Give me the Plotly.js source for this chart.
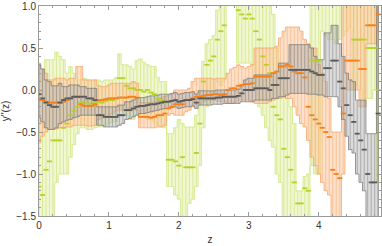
<!DOCTYPE html>
<html><head><meta charset="utf-8">
<script src="https://cdn.plot.ly/plotly-3.0.1.min.js"></script>
<style>html,body{margin:0;padding:0;background:#fff}#chart{width:382px;height:246px}</style>
</head><body><div id="chart"></div>
<script>
const z = [0,0.05,0.1,0.15,0.2,0.25,0.3,0.35,0.4,0.45,0.5,0.55,0.6,0.65,0.7,0.75,0.8,0.85,0.9,0.95,
1,1.05,1.1,1.15,1.2,1.25,1.3,1.35,1.4,1.45,1.5,1.55,1.6,1.65,1.7,1.75,1.8,1.85,1.9,1.95,
2,2.05,2.1,2.15,2.2,2.25,2.3,2.35,2.4,2.45,2.5,2.55,2.6,2.65,2.7,2.75,2.8,2.85,2.9,2.95,
3,3.05,3.1,3.15,3.2,3.25,3.3,3.35,3.4,3.45,3.5,3.55,3.6,3.65,3.7,3.75,3.8,3.85,3.9,3.95,
4,4.05,4.1,4.15,4.2,4.25,4.3,4.35,4.4,4.45,4.5,4.55,4.6,4.65,4.7,4.75,4.8,4.85];

const greenC = [-1.15,-1.25,-0.95,-0.85,-0.6,-0.6,
-0.6,-0.45,-0.4,-0.3,-0.25,-0.2,
-0.15,-0.14,-0.16,-0.18,-0.15,-0.14,-0.15,-0.13,-0.12,-0.12,-0.1,
0.14,0.14,0.05,0.02,0.02,0.0,0.0,-0.02,0.0,-0.03,-0.05,-0.1,-0.12,-0.15,
-0.83,-0.83,-0.85,-0.9,-0.8,-0.92,-0.92,-0.92,-0.75,-0.4,0.1,0.3,0.35,0.4,0.6,0.7,0.77,1.4,1.4,1.3,0.95,0.9,0.85,
0.9,0.85,0.7,0.6,0.4,0.3,0.2,-0.2,-0.3,-0.35,-0.7,-0.8,-0.95,-1.1,-1.35,-1.35,-1.17,-1.2,
0.35,0.35,0.35,1.2,1.2,1.2,1.2,1.2,1.2,1.2,1.2,1.2,0.6,0.6,0.6,0.6,0.5,0.5,0.5,0.0];
const greenLo = [-1.8,-1.8,-1.8,-1.8,-1.8,-1.1,
-1.0,-1.0,-1.0,-0.8,-0.65,-0.52,
-0.45,-0.45,-0.47,-0.47,-0.45,-0.44,-0.44,-0.42,-0.4,-0.38,-0.38,
-0.2,-0.25,-0.3,-0.35,-0.35,-0.3,-0.3,-0.3,-0.35,-0.35,-0.38,-0.42,-0.44,-0.45,
-1.15,-1.15,-1.25,-1.3,-1.5,-1.6,-1.35,-1.3,-1.15,-0.9,-0.45,-0.2,-0.15,-0.05,0.1,0.05,0.12,1.05,1.05,1.02,0.32,0.32,0.32,
0.32,0.3,0.0,-0.2,-0.3,-0.45,-0.6,-0.68,-1.0,-1.1,-1.6,-1.6,-1.7,-1.7,-1.8,-1.8,-1.8,-1.8,
-0.9,-1.0,-1.0,0.7,0.65,0.6,0.6,0.55,0.6,0.65,0.7,0.75,0.0,0.05,0.0,-0.1,-0.1,-0.1,0.0,-1.1];
const greenHi = [0.1,0.2,0.36,0.36,0.36,0.45,
0.4,0.36,0.2,0.28,0.2,0.12,
0.12,0.14,0.12,0.1,0.12,0.12,0.1,0.12,0.12,0.12,0.15,
0.43,0.3,0.3,0.28,0.25,0.35,0.37,0.33,0.3,0.28,0.28,0.15,0.1,0.1,
-0.52,-0.52,-0.45,-0.35,-0.4,-0.44,-0.44,-0.44,-0.3,0.0,0.34,0.55,0.6,0.65,0.95,1.2,1.3,2,2,2,1.6,1.6,1.6,
1.6,1.6,1.6,1.6,1.2,1.1,1.0,0.9,0.5,0.3,0.0,-0.1,-0.2,-0.4,-1.2,-1.2,-1.03,-1.0,
1.6,1.6,1.6,2,2,2,2,2,2,2,2,2,1.6,1.6,1.6,1.6,1.6,1.6,1.6,1.6];

const orangeC = [-0.12,-0.12,-0.14,-0.15,-0.15,-0.15,
-0.15,-0.14,-0.12,-0.1,-0.08,-0.08,
-0.17,-0.19,-0.19,-0.19,-0.17,-0.12,-0.12,-0.11,-0.1,-0.1,-0.1,
-0.09,-0.09,-0.09,-0.08,-0.08,-0.09,-0.32,-0.32,-0.32,-0.33,-0.32,-0.3,-0.3,-0.28,
-0.22,-0.2,-0.17,-0.17,-0.17,-0.12,-0.12,-0.1,-0.08,-0.08,-0.07,-0.06,-0.06,-0.05,-0.05,-0.06,-0.05,0.0,0.02,0.02,0.05,0.06,0.07,
0.07,0.08,0.16,0.16,0.16,0.16,0.16,0.2,0.22,0.28,0.28,0.3,0.28,0.22,0.2,0.2,0.15,-0.2,
-0.3,-0.35,-0.4,-0.45,-0.5,-0.56,-0.95,-1.0,-1.05,-0.28,0.35,0.35,0.35,0.35,0.25,0.25,0.77,0.77,0.77,0.9];
const orangeLo = [-0.63,-0.55,-0.5,-0.47,-0.46,-0.46,
-0.45,-0.45,-0.44,-0.44,-0.42,-0.42,
-0.42,-0.42,-0.43,-0.43,-0.42,-0.35,-0.33,-0.32,-0.3,-0.28,-0.25,
-0.24,-0.24,-0.24,-0.22,-0.22,-0.24,-0.45,-0.45,-0.45,-0.45,-0.45,-0.44,-0.44,-0.42,
-0.3,-0.28,-0.3,-0.3,-0.3,-0.26,-0.24,-0.2,-0.17,-0.17,-0.14,-0.12,-0.12,-0.12,-0.13,-0.14,-0.14,-0.16,-0.16,-0.15,-0.12,-0.12,-0.12,
-0.12,-0.14,-0.16,-0.16,-0.16,-0.16,-0.14,-0.12,-0.1,-0.1,-0.08,-0.1,-0.1,-0.2,-0.3,-0.4,-0.44,-0.6,
-0.8,-0.9,-1.0,-1.1,-1.2,-1.25,-1.6,-1.6,-1.6,-1.0,0.0,0.0,0.0,0.0,-0.2,-0.2,0.55,0.55,0.55,0.7];
const orangeHi = [0.32,0.25,0.2,0.12,0.12,0.14,
0.14,0.14,0.12,0.14,0.14,0.28,
0.28,0.12,0.12,0.12,0.12,0.05,0.04,0.04,0.06,0.08,0.08,
0.08,0.08,0.08,0.08,0.1,0.08,-0.15,-0.15,-0.15,-0.15,-0.14,-0.12,-0.1,-0.08,
-0.06,-0.05,0.0,0.0,0.0,0.0,0.02,0.1,0.14,0.14,0.14,0.14,0.14,0.13,0.14,0.14,0.14,0.2,0.25,0.27,0.3,0.28,0.26,
0.28,0.3,0.5,0.5,0.5,0.5,0.5,0.5,0.52,0.62,0.7,0.75,0.75,0.75,0.75,0.7,0.6,0.55,
0.5,0.5,0.3,0.2,0.1,-0.1,-0.5,-0.5,-0.5,1.6,1.6,1.6,1.6,1.6,1.6,1.6,1.6,1.6,1.6,1.6];

const grayC = [-0.05,-0.1,-0.15,-0.18,-0.2,-0.2,
-0.15,-0.12,-0.1,-0.1,-0.08,-0.08,
-0.08,-0.08,-0.1,-0.1,-0.12,-0.3,-0.3,-0.32,-0.32,-0.32,-0.32,
-0.3,-0.3,-0.24,-0.24,-0.22,-0.2,-0.19,-0.19,-0.18,-0.17,-0.17,-0.16,-0.15,-0.14,
-0.14,-0.13,-0.12,-0.14,-0.13,-0.12,-0.12,-0.11,-0.15,-0.1,-0.1,-0.1,-0.1,-0.1,-0.09,-0.09,-0.08,-0.08,-0.08,-0.08,-0.07,-0.04,0.0,
0.0,0.0,0.02,0.02,0.02,0.02,0.0,0.06,0.06,0.14,0.14,0.14,0.24,0.24,0.24,0.24,0.24,0.24,
0.22,0.2,0.18,0.18,0.26,0.26,0.35,0.35,0.1,0.02,-0.18,-0.3,-0.38,-0.52,-0.6,-0.71,-1.0,-1.1,-1.1,-0.28];
const grayLo = [-0.33,-0.38,-0.45,-0.47,-0.47,-0.45,
-0.4,-0.38,-0.36,-0.35,-0.33,-0.32,
-0.3,-0.3,-0.3,-0.3,-0.3,-0.42,-0.42,-0.44,-0.44,-0.44,-0.44,
-0.42,-0.4,-0.35,-0.34,-0.32,-0.3,-0.28,-0.28,-0.27,-0.26,-0.25,-0.24,-0.23,-0.22,
-0.22,-0.21,-0.2,-0.22,-0.21,-0.2,-0.2,-0.19,-0.22,-0.18,-0.18,-0.18,-0.18,-0.17,-0.17,-0.17,-0.16,-0.16,-0.16,-0.16,-0.16,-0.14,-0.14,
-0.14,-0.14,-0.12,-0.12,-0.12,-0.12,-0.12,-0.1,-0.1,-0.08,-0.08,-0.06,-0.04,-0.04,-0.04,-0.04,-0.04,-0.05,
-0.05,-0.05,-0.06,-0.06,-0.08,-0.08,-0.08,-0.08,-0.2,-0.35,-0.55,-0.71,-0.75,-1.0,-1.1,-1.2,-1.6,-1.6,-1.6,-1.6];
const grayHi = [0.3,0.25,0.12,0.1,0.05,0.05,
0.08,0.04,0.04,0.06,0.06,0.06,
0.04,0.04,0.02,0.02,0.02,-0.2,-0.2,-0.2,-0.2,-0.2,-0.2,
-0.18,-0.18,-0.14,-0.14,-0.12,-0.1,-0.09,-0.09,-0.08,-0.07,-0.07,-0.06,-0.05,-0.05,
-0.05,-0.04,-0.03,-0.05,-0.04,-0.03,-0.03,-0.02,-0.05,-0.01,-0.01,-0.01,-0.01,-0.01,0.0,0.0,0.0,0.0,0.0,0.0,0.01,0.05,0.12,
0.14,0.14,0.18,0.18,0.18,0.18,0.18,0.2,0.22,0.32,0.32,0.32,0.54,0.54,0.54,0.54,0.54,0.54,
0.5,0.4,0.36,0.36,0.68,0.68,0.77,0.77,0.55,0.4,0.2,0.12,0.1,-0.12,-0.12,-0.12,-0.52,-0.52,-0.52,1.6];

const xTicks = [0,1,2,3,4];
const yTicks = [-1.5,-1.0,-0.5,0.0,0.5,1.0];
const yTickText = ['\u22121.5','\u22121.0','\u22120.5','0.0','0.5','1.0'];

const styles = {
  green:  {fill:'rgba(226,240,165,0.5)', edge:'rgba(205,228,120,0.9)', bar:'rgba(210,230,130,0.75)', mk:'#b8d02a'},
  orange: {fill:'rgba(252,195,150,0.5)', edge:'rgba(246,160,95,0.9)', bar:'rgba(249,172,115,0.6)', mk:'#f5801a'},
  gray:   {fill:'rgba(175,175,175,0.45)', edge:'rgba(115,115,115,0.9)', bar:'rgba(140,140,140,0.6)', mk:'#5a5a5a'}
};

function bandTraces(c, lo, hi, s) {
  const xr = z.slice().reverse();
  return [
    {x: z.concat(xr), y: hi.concat(lo.slice().reverse()), mode:'lines', fill:'toself',
     fillcolor: s.fill, line:{color:s.edge, width:0.8, shape:'hvh'}, hoverinfo:'skip', showlegend:false},
    {x: z, y: c, mode:'markers', marker:{size:1, color:'rgba(0,0,0,0)'}, showlegend:false, hoverinfo:'skip',
     error_y:{type:'data', symmetric:false, array: hi.map((v,i)=>v-c[i]), arrayminus: c.map((v,i)=>v-lo[i]),
              color:s.bar, thickness:1, width:0}}
  ];
}
function markTrace(c, s) {
  return {x:z, y:c, mode:'markers', showlegend:false, hoverinfo:'skip',
          marker:{symbol:'line-ew', size:3.6, color:s.mk, line:{width:1.8, color:s.mk}}};
}

const data = [].concat(
  bandTraces(greenC, greenLo, greenHi, styles.green),
  bandTraces(orangeC, orangeLo, orangeHi, styles.orange),
  bandTraces(grayC, grayLo, grayHi, styles.gray),
  [markTrace(greenC, styles.green), markTrace(orangeC, styles.orange), markTrace(grayC, styles.gray)]
);

const axisCommon = {showgrid:false, zeroline:false, showline:true, linecolor:'#9a9a9a', linewidth:1,
  mirror:'ticks', ticks:'inside', ticklen:4, tickcolor:'#9a9a9a', tickwidth:1,
  tickfont:{family:'Liberation Sans, Arial, sans-serif', size:10, color:'#333'}};

const layout = {
  width:382, height:246, margin:{l:39, r:1, t:6, b:30},
  paper_bgcolor:'#fff', plot_bgcolor:'#fff', showlegend:false,
  xaxis: Object.assign({}, axisCommon, {range:[0,4.89], tickvals:xTicks, ticktext:xTicks.map(String),
    minor:{ticks:'inside', ticklen:2, tickcolor:'#9a9a9a', dtick:0.2, tick0:0},
    title:{text:'z', font:{family:'Liberation Sans, Arial, sans-serif', size:10, color:'#333'}, standoff:5}}),
  yaxis: Object.assign({}, axisCommon, {range:[-1.5,1.0], tickvals:yTicks, ticktext:yTickText,
    minor:{ticks:'inside', ticklen:2, tickcolor:'#9a9a9a', dtick:0.1, tick0:0},
    title:{text:"y''(z)", font:{family:'Liberation Sans, Arial, sans-serif', size:10, color:'#333'}, standoff:4}})
};

Plotly.newPlot('chart', data, layout, {staticPlot:true, displayModeBar:false});
</script></body></html>
